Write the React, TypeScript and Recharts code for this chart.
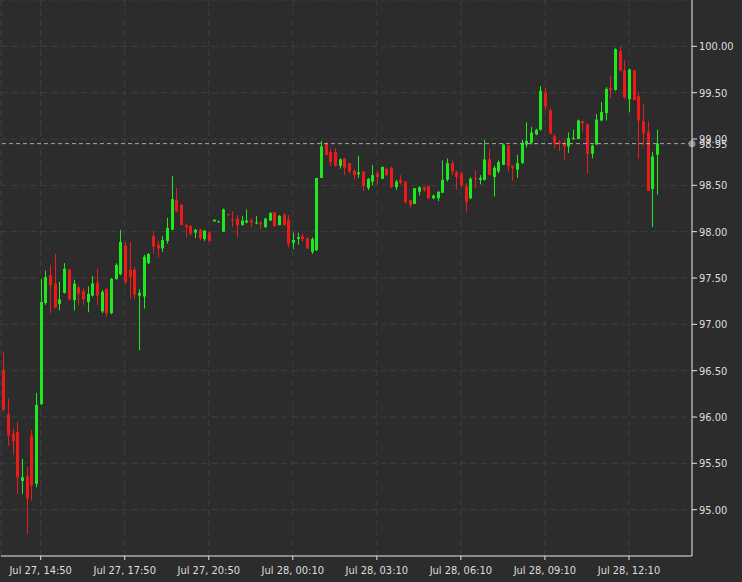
import { ComposedChart, Bar, XAxis, YAxis, CartesianGrid, ReferenceLine } from 'recharts'

// 10-minute candles
const opens = [
  96.51, 96.03, 95.82, 95.84, 95.31, 95.36, 95.80, 95.28, 96.14, 97.23,
  97.53, 97.44, 97.22, 97.34, 97.59, 97.26, 97.40, 97.36, 97.24, 97.31,
  97.45, 97.14, 97.38, 97.12, 97.49, 97.54, 97.85, 97.59, 97.59, 97.31,
  97.30, 97.66, 97.95, 97.86, 97.82, 97.90, 98.02, 98.34, 98.29, 98.07,
  98.06, 97.99, 98.02, 97.92, 97.99, 98.11, 98.10, 98.00, 98.19, 98.13,
  98.14, 98.07, 98.10, 98.12, 98.09, 98.10, 98.05, 98.12, 98.21, 98.07,
  98.18, 98.13, 97.88, 97.92, 97.95, 97.93, 97.78, 97.80, 98.58, 98.95,
  98.86, 98.86, 98.71, 98.79, 98.74, 98.66, 98.62, 98.65, 98.47, 98.54,
  98.63, 98.57, 98.68, 98.69, 98.48, 98.56, 98.54, 98.34, 98.30, 98.43,
  98.48, 98.49, 98.36, 98.36, 98.42, 98.56, 98.74, 98.64, 98.63, 98.49,
  98.36, 98.58, 98.56, 98.56, 98.78, 98.59, 98.65, 98.72, 98.93, 98.71,
  98.67, 98.74, 98.94, 98.96, 99.05, 99.10, 99.50, 99.31, 99.03, 98.97,
  98.96, 98.92, 99.00, 99.00, 99.19, 99.16, 98.84, 98.94, 99.20, 99.28,
  99.55, 99.53, 99.95, 99.74, 99.43, 99.74, 99.46, 99.19, 99.08, 98.46,
  98.83,
]
const highs = [
  96.70, 96.20, 95.87, 95.95, 95.55, 95.46, 95.86, 96.26, 97.49, 97.58,
  97.64, 97.76, 97.46, 97.66, 97.60, 97.48, 97.42, 97.39, 97.41, 97.52,
  97.60, 97.37, 97.39, 97.50, 97.66, 98.02, 97.89, 97.89, 97.62, 97.38,
  97.75, 97.77, 97.99, 97.90, 97.95, 98.15, 98.60, 98.47, 98.30, 98.09,
  98.07, 98.03, 98.03, 98.02, 98.00, 98.13, 98.12, 98.25, 98.19, 98.22,
  98.18, 98.17, 98.24, 98.14, 98.17, 98.11, 98.15, 98.21, 98.21, 98.18,
  98.20, 98.18, 97.99, 97.99, 97.98, 97.94, 97.94, 98.58, 98.98, 98.97,
  98.89, 98.90, 98.79, 98.79, 98.74, 98.67, 98.82, 98.65, 98.58, 98.72,
  98.65, 98.70, 98.69, 98.70, 98.56, 98.61, 98.54, 98.34, 98.47, 98.49,
  98.48, 98.50, 98.40, 98.44, 98.77, 98.79, 98.77, 98.66, 98.64, 98.52,
  98.59, 98.66, 98.61, 98.99, 98.89, 98.71, 98.77, 98.95, 98.93, 98.72,
  98.83, 98.99, 99.18, 99.13, 99.11, 99.57, 99.55, 99.33, 99.05, 98.99,
  98.99, 99.07, 99.10, 99.21, 99.20, 99.16, 98.94, 99.27, 99.40, 99.56,
  99.68, 99.98, 100.00, 99.85, 99.76, 99.74, 99.51, 99.38, 99.19, 98.86,
  99.10,
]
const lows = [
  96.06, 95.69, 95.59, 95.17, 95.17, 94.74, 95.10, 95.24, 96.13, 97.21,
  97.12, 97.17, 97.15, 97.33, 97.26, 97.15, 97.21, 97.21, 97.13, 97.30,
  97.21, 97.12, 97.08, 97.11, 97.48, 97.53, 97.44, 97.28, 97.27, 96.72,
  97.17, 97.65, 97.76, 97.72, 97.78, 97.87, 98.02, 98.21, 98.07, 97.94,
  97.96, 97.93, 97.91, 97.90, 97.89, 98.11, 98.10, 98.00, 98.17, 98.05,
  97.94, 98.07, 98.09, 98.05, 98.08, 98.03, 98.04, 98.12, 98.05, 98.07,
  98.07, 97.83, 97.81, 97.86, 97.89, 97.81, 97.76, 97.79, 98.58, 98.82,
  98.71, 98.70, 98.68, 98.61, 98.63, 98.56, 98.58, 98.44, 98.45, 98.50,
  98.50, 98.57, 98.60, 98.47, 98.45, 98.51, 98.30, 98.26, 98.30, 98.39,
  98.43, 98.35, 98.35, 98.33, 98.42, 98.54, 98.61, 98.45, 98.47, 98.21,
  98.35, 98.47, 98.51, 98.55, 98.61, 98.38, 98.63, 98.72, 98.65, 98.55,
  98.58, 98.73, 98.91, 98.94, 99.04, 99.09, 99.31, 99.05, 98.90, 98.87,
  98.78, 98.85, 98.99, 99.00, 99.08, 98.63, 98.79, 98.94, 99.19, 99.20,
  99.44, 99.52, 99.73, 99.43, 99.29, 99.42, 98.79, 98.93, 98.44, 98.05,
  98.40,
]
const closes = [
  96.08, 95.80, 95.74, 95.35, 95.35, 95.12, 95.26, 96.13, 97.24, 97.51,
  97.42, 97.18, 97.27, 97.60, 97.27, 97.44, 97.33, 97.27, 97.33, 97.44,
  97.31, 97.35, 97.12, 97.49, 97.64, 97.89, 97.46, 97.51, 97.32, 97.34,
  97.73, 97.76, 97.84, 97.82, 97.91, 98.04, 98.35, 98.22, 98.07, 98.05,
  97.98, 98.02, 97.93, 98.01, 97.90, 98.13, 98.11, 98.24, 98.18, 98.12,
  98.07, 98.12, 98.12, 98.10, 98.10, 98.08, 98.14, 98.20, 98.06, 98.17,
  98.07, 97.87, 97.91, 97.94, 97.92, 97.82, 97.92, 98.58, 98.92, 98.83,
  98.75, 98.71, 98.78, 98.69, 98.65, 98.61, 98.64, 98.49, 98.57, 98.61,
  98.59, 98.70, 98.61, 98.48, 98.54, 98.53, 98.32, 98.29, 98.47, 98.48,
  98.45, 98.36, 98.39, 98.43, 98.56, 98.74, 98.65, 98.59, 98.50, 98.32,
  98.57, 98.57, 98.58, 98.78, 98.61, 98.69, 98.75, 98.94, 98.71, 98.69,
  98.74, 98.96, 98.98, 99.07, 99.10, 99.52, 99.35, 99.06, 98.96, 98.95,
  98.92, 99.01, 99.01, 99.20, 99.17, 98.84, 98.93, 99.21, 99.29, 99.54,
  99.53, 99.97, 99.74, 99.45, 99.75, 99.42, 99.20, 99.06, 98.44, 98.81,
  98.95,
]

const tickIdx = [8, 26, 44, 62, 80, 98, 116, 134]
const tickLabels = [
  'Jul 27, 14:50', 'Jul 27, 17:50', 'Jul 27, 20:50', 'Jul 28, 00:10',
  'Jul 28, 03:10', 'Jul 28, 06:10', 'Jul 28, 09:10', 'Jul 28, 12:10',
]
const yTicks = [95, 95.5, 96, 96.5, 97, 97.5, 98, 98.5, 99, 99.5, 100]
const lastPrice = 98.95
const slots = 148 // empty room after the last candle

const UP = '#1fe81f'
const DOWN = '#ec1b1b'
const FONT = "'DejaVu Sans Condensed', 'DejaVu Sans', sans-serif"

const data = Array.from({ length: slots }, (_, i) =>
  i < opens.length
    ? { i, o: opens[i], h: highs[i], l: lows[i], c: closes[i], range: [lows[i], highs[i]] }
    : { i, range: null }
)

function Candle(props: any) {
  const { x, y, width, height, payload } = props
  if (!payload || payload.o == null || height == null) return null
  const { o, h, l, c } = payload
  const top = Math.min(y, y + height)
  const bot = Math.max(y, y + height)
  const span = h - l
  const py = (v: number) => (span > 0 ? top + ((h - v) / span) * (bot - top) : top)
  const color = c >= o ? UP : DOWN
  const cx = Math.round(x + width / 2)
  const bTop = py(Math.max(o, c))
  const bH = Math.max(1, py(Math.min(o, c)) - bTop)
  return (
    <g>
      <rect x={cx} y={top} width={1} height={Math.max(1, bot - top)} fill={color} />
      <rect x={cx - 1} y={bTop} width={3} height={bH} fill={color} />
    </g>
  )
}

function CurPrice(props: any) {
  const vb = props.viewBox || {}
  const xr = (vb.x ?? 0) + (vb.width ?? 0)
  return (
    <g>
      <circle cx={xr} cy={vb.y} r={3.5} fill="#8c8c8c" />
      <text x={xr + 7} y={vb.y} dy="0.355em" fontSize={11} fill="#dedede" fontFamily={FONT}>
        {lastPrice.toFixed(2)}
      </text>
    </g>
  )
}

export default function App() {
  return (
    <div style={{ position: 'fixed', left: 0, top: 0, width: 742, height: 582, background: '#2b2c2b' }}>
      <ComposedChart width={742} height={582} data={data} margin={{ top: 0, right: 0, bottom: 0, left: 1 }}>
        <CartesianGrid strokeDasharray="6 4" stroke="#3e3f3e" />
        <XAxis
          dataKey="i"
          type="category"
          ticks={tickIdx}
          interval={0}
          height={26}
          tickSize={4}
          tickMargin={6}
          tickFormatter={(v: number) => tickLabels[tickIdx.indexOf(v)] ?? ''}
          tick={{ fontSize: 11, fill: '#dedede', fontFamily: FONT }}
          axisLine={{ stroke: '#e4e4e4' }}
          tickLine={{ stroke: '#e4e4e4' }}
        />
        <YAxis
          orientation="right"
          width={50}
          domain={[94.5, 100.5]}
          ticks={yTicks}
          allowDataOverflow
          tickSize={5}
          tickMargin={2}
          tickFormatter={(v: number) => v.toFixed(2)}
          tick={{ fontSize: 11, fill: '#dedede', fontFamily: FONT }}
          axisLine={{ stroke: '#e4e4e4' }}
          tickLine={{ stroke: '#e4e4e4' }}
        />
        <Bar dataKey="range" shape={(p: any) => <Candle {...p} />} isAnimationActive={false} />
        <ReferenceLine y={lastPrice} stroke="#a8a8a8" strokeDasharray="4 3" label={(p: any) => <CurPrice {...p} />} />
      </ComposedChart>
    </div>
  )
}
